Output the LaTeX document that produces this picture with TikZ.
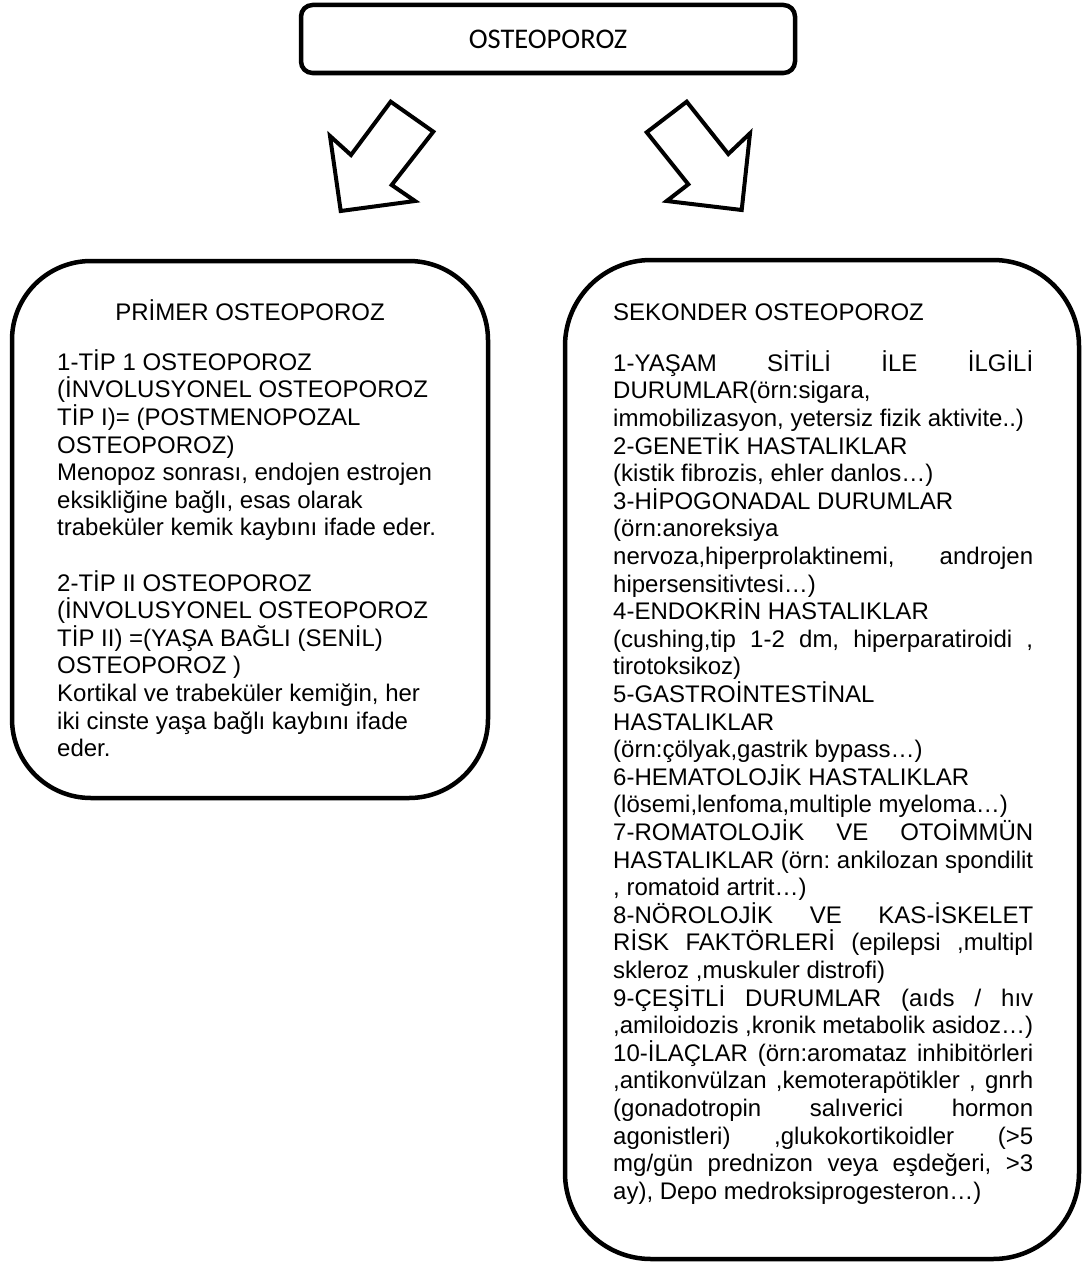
\documentclass[tikz,border=0pt]{standalone}
\usepackage{fontspec}
\setmainfont{Liberation Sans}
\newfontfamily\calibrifont{Carlito}
\newcommand\jline[1]{\makebox[420pt][s]{#1}}
\frenchspacing
\begin{document}
\begin{tikzpicture}[x=1pt,y=-1pt,
  bigbox/.style={draw, line width=4.5pt, rectangle, inner sep=0pt},
  txt/.style={inner sep=0pt, align=left, font=\fontsize{24}{27.6}\selectfont\frenchspacing},
  blockarrow/.style={draw, line width=4pt, line join=miter, fill=white}]
\useasboundingbox (0,0) rectangle (1088,1263);

% top box
\node[bigbox, rounded corners=11.5pt, minimum width=494pt, minimum height=68pt,
      font=\calibrifont\fontsize{28.5}{34}\selectfont] (top) at (548,39) {OSTEOPOROZ};

% block arrows
\draw[blockarrow] (390.7,101.7) -- (433.3,131.7) -- (391.7,185) -- (415,201)
  -- (340.7,211) -- (330,136) -- (351,155) -- cycle;
\draw[blockarrow] (686.7,101.7) -- (646.7,132.3) -- (688.3,184.3) -- (666.7,201)
  -- (741.7,210) -- (750,133.3) -- (728.3,154) -- cycle;

% left box
\node[bigbox, rounded corners=79pt, minimum width=476pt, minimum height=537pt] (left) at (250,529.5) {};
\node[txt, anchor=base] (lhead) at (250,320) {PRİMER OSTEOPOROZ};
\node[txt, anchor=north west] (lbody) at (57,346) {\rule{0pt}{24pt}1-TİP 1 OSTEOPOROZ\\
(İNVOLUSYONEL OSTEOPOROZ\\
TİP I)= (POSTMENOPOZAL\\
OSTEOPOROZ)\\
Menopoz sonrası, endojen estrojen\\
eksikliğine bağlı, esas olarak\\
trabeküler kemik kaybını ifade eder.\\[27.6pt]
2-TİP II OSTEOPOROZ\\
(İNVOLUSYONEL OSTEOPOROZ\\
TİP II) =(YAŞA BAĞLI (SENİL)\\
OSTEOPOROZ )\\
Kortikal ve trabeküler kemiğin, her\\
iki cinste yaşa bağlı kaybını ifade\\
eder.};

% right box
\node[bigbox, rounded corners=86pt, minimum width=514pt, minimum height=999pt] (right) at (822,759.5) {};
\node[txt, anchor=base west] (rhead) at (613,320) {SEKONDER OSTEOPOROZ};
\node[txt, anchor=north west] (rbody) at (613,347) {\rule{0pt}{24pt}\jline{1-YAŞAM SİTİLİ İLE İLGİLİ}\\
DURUMLAR(örn:sigara,\\
immobilizasyon, yetersiz fizik aktivite..)\\
2-GENETİK HASTALIKLAR\\
(kistik fibrozis, ehler danlos…)\\
3-HİPOGONADAL DURUMLAR\\
(örn:anoreksiya\\
\jline{nervoza,hiperprolaktinemi, androjen}\\
hipersensitivtesi…)\\
4-ENDOKRİN HASTALIKLAR\\
\jline{(cushing,tip 1-2 dm, hiperparatiroidi ,}\\
tirotoksikoz)\\
5-GASTROİNTESTİNAL\\
HASTALIKLAR\\
(örn:çölyak,gastrik bypass…)\\
6-HEMATOLOJİK HASTALIKLAR\\
(lösemi,lenfoma,multiple myeloma…)\\
\jline{7-ROMATOLOJİK VE OTOİMMÜN}\\
\jline{HASTALIKLAR (örn: ankilozan spondilit}\\
, romatoid artrit…)\\
\jline{8-NÖROLOJİK VE KAS-İSKELET}\\
\jline{RİSK FAKTÖRLERİ (epilepsi ,multipl}\\
skleroz ,muskuler distrofi)\\
\jline{9-ÇEŞİTLİ DURUMLAR (aıds / hıv}\\
\jline{,amiloidozis ,kronik metabolik asidoz…)}\\
\jline{10-İLAÇLAR (örn:aromataz inhibitörleri}\\
\jline{,antikonvülzan ,kemoterapötikler , gnrh}\\
\jline{(gonadotropin salıverici hormon}\\
\jline{agonistleri) ,glukokortikoidler (>5}\\
\jline{mg/gün prednizon veya eşdeğeri, >3}\\
ay), Depo medroksiprogesteron…)};
\end{tikzpicture}
\end{document}
